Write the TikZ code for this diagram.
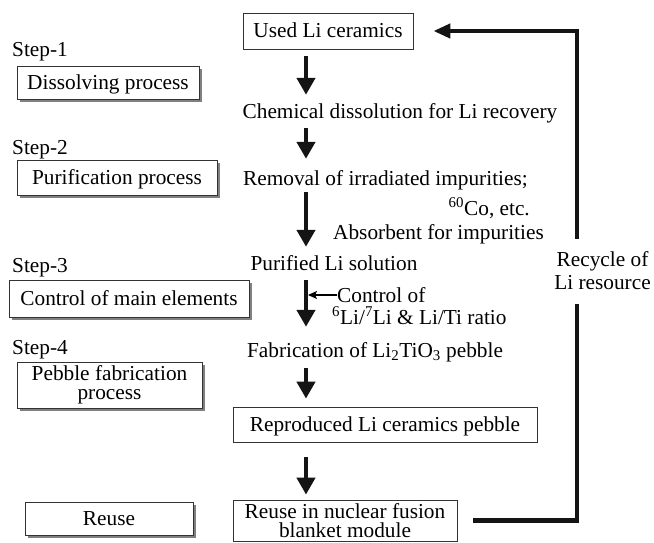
\documentclass[tikz,border=0pt]{standalone}
\usepackage{fontspec}
\setmainfont{Liberation Serif}
\usetikzlibrary{arrows.meta,calc}
\begin{document}
\begin{tikzpicture}[x=1pt,y=-1pt,
  every node/.style={font=\fontsize{21.3}{19.5}\selectfont, inner sep=0pt, text height=16pt, text depth=2pt},
  cbox/.style={draw=black!80, line width=0.8pt},
  sbox/.style={draw=black!80, line width=0.8pt, fill=white,
    preaction={fill=black!50, transform canvas={shift={(3pt,-3pt)}}}},
  multi/.style={align=center, text height=, text depth=},
  bigarrow/.style={line width=4.5pt, draw=black!92, -{Triangle[length=17pt,width=18pt]}},
  fbarrow/.style={line width=4.5pt, draw=black!92, -{Triangle[length=17pt,width=14pt]}},
  thinarrow/.style={line width=1.3pt, -{Stealth[length=9pt,width=8pt,inset=2pt]}}
]
\useasboundingbox (0,0) rectangle (654,543);
\coordinate (ax) at (306,0);
\coordinate (rx) at (577,0);

% centre column
\node[cbox, minimum width=170pt, minimum height=36pt] (used) at (328,31) {Used Li ceramics};
\node (chem) at (400,112) {Chemical dissolution for Li recovery};
\node[anchor=west] (removal) at (243,178) {Removal of irradiated impurities;};
\node[anchor=east] (co) at (530,208) {\textsuperscript{60}Co, etc.};
\node[anchor=west] (absorb) at (333,232) {Absorbent for impurities};
\node (purified) at (334,263) {Purified Li solution};
\node[anchor=west] (ctrl) at (337,295) {Control of};
\node[anchor=west, text height=14pt, text depth=4pt] (ratio) at (332,319) {\textsuperscript{6}Li/\textsuperscript{7}Li \& Li/Ti ratio};
\node (fab) at (375,350) {Fabrication of Li\textsubscript{2}TiO\textsubscript{3} pebble};
\node[cbox, minimum width=304pt, minimum height=35pt] (repro) at (385,424.5) {Reproduced Li ceramics pebble};
\node[cbox, multi, minimum width=224pt, minimum height=41pt] (reuseb) at (345,520.5) {Reuse in nuclear fusion\\blanket module};

% left column
\node[anchor=west] (s1) at (12,50) {Step-1};
\node[sbox, minimum width=182pt, minimum height=33pt] (dis) at (108,82.5) {Dissolving process};
\node[anchor=west] (s2) at (12,147) {Step-2};
\node[sbox, minimum width=200pt, minimum height=35pt] (pur) at (117,177.5) {Purification process};
\node[anchor=west] (s3) at (12,265) {Step-3};
\node[sbox, minimum width=240pt, minimum height=37pt] (ctl) at (129,298.5) {Control of main elements};
\node[anchor=west] (s4) at (12,347) {Step-4};
\node[sbox, multi, minimum width=185pt, minimum height=46pt] (peb) at (109.5,385) {Pebble fabrication\\process};
\node[sbox, minimum width=168pt, minimum height=33pt] (reu) at (109,518.5) {Reuse};

% main arrows
\draw[bigarrow, shorten <=7pt, shorten >=8pt] (used.south -| ax) -- (chem.north -| ax);
\draw[bigarrow, shorten <=7pt, shorten >=10pt] (chem.south -| ax) -- (removal.north -| ax);
\draw[bigarrow, shorten <=5pt, shorten >=7pt] (removal.south -| ax) -- (purified.north -| ax);
\draw[bigarrow, shorten <=8pt, shorten >=14pt] (purified.south -| ax) -- (fab.north -| ax);
\draw[bigarrow, shorten <=9pt, shorten >=8pt] (fab.south -| ax) -- (repro.north -| ax);
\draw[bigarrow, shorten <=15pt, shorten >=5pt] (repro.south -| ax) -- (reuseb.north -| ax);
\draw[thinarrow, shorten >=2pt] (ctrl.west) -- (ctrl.west -| ax);

% feedback loop
\draw[fbarrow, shorten <=16pt, shorten >=20pt] (reuseb.east) -- (reuseb.east -| rx) -- (used.east -| rx) -- (used.east);
\node[multi, fill=white, font=\fontsize{21.3}{23}\selectfont, minimum height=65pt, inner xsep=2pt] (recycle) at (602.5,271) {Recycle of\\Li resource};
\end{tikzpicture}
\end{document}
